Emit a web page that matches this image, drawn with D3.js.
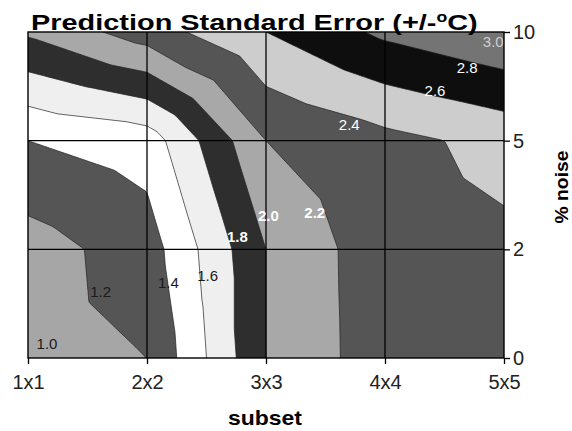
<!DOCTYPE html>
<html>
<head>
<meta charset="utf-8">
<title>Prediction Standard Error</title>
<script src="https://d3js.org/d3.v7.min.js"></script>
<style>
  body { margin: 0; background: #fff; }
  text { font-family: Arial, "Liberation Sans", sans-serif; }
</style>
</head>
<body>
<script>
// categories
var subsets = ["1x1", "2x2", "3x3", "4x4", "5x5"];
var noise = ["0", "2", "5", "10"];

// prediction standard error, one row per noise level, one value per subset
var err0  = [1.18, 1.20, 2.00, 2.32, 2.35];
var err2  = [1.11, 1.30, 2.00, 2.33, 2.36];
var err5  = [1.40, 1.49, 2.20, 2.34, 2.46];
var err10 = [2.03, 2.30, 2.60, 2.84, 2.98];

// contour levels and the labels written on the bands
var levels = [1.0, 1.2, 1.4, 1.6, 1.8, 2.0, 2.2, 2.4, 2.6, 2.8, 3.0];
var labelText = ["1.0", "1.2", "1.4", "1.6", "1.8", "2.0", "2.2", "2.4", "2.6", "2.8", "3.0"];
var labelSubset = [0.16, 0.61, 1.18, 1.51, 1.76, 2.02, 2.41, 2.70, 3.42, 3.69, 3.91];
var labelNoise  = [0.13, 0.61, 0.69, 0.76, 1.12, 1.31, 1.34, 2.15, 2.46, 2.67, 2.91];

var bandColors = ["#a6a6a6", "#555555", "#ffffff", "#efefef", "#2e2e2e", "#a8a8a8",
                  "#555555", "#cdcdcd", "#0e0e0e", "#747474", "#8a8a8a"];

var W = 572, H = 431;
var x0 = 28, x1 = 504, y0 = 32, y1 = 358;

var svg = d3.select("body").append("svg")
    .attr("width", W)
    .attr("height", H);

var x = d3.scalePoint().domain(subsets).range([x0, x1]);
var y = d3.scalePoint().domain(noise).range([y1, y0]);
var xi = d3.scaleLinear().domain([0, subsets.length - 1]).range([x0, x1]);
var yi = d3.scaleLinear().domain([0, noise.length - 1]).range([y1, y0]);

var grid = [err0, err2, err5, err10];

// surface value: every cell split in four triangles round its centre
function surface(u, v) {
  var i = Math.min(Math.floor(u), subsets.length - 2);
  var j = Math.min(Math.floor(v), noise.length - 2);
  var a = u - i, b = v - j;
  var bl = grid[j][i], br = grid[j][i + 1], tl = grid[j + 1][i], tr = grid[j + 1][i + 1];
  var c = (bl + br + tl + tr) / 4;
  var dx = a - 0.5, dy = b - 0.5;
  if (Math.abs(dy) >= Math.abs(dx)) {
    if (dy <= 0) return bl + (br - bl) * a + 2 * (c - (bl + br) / 2) * b;
    return tl + (tr - tl) * a + 2 * (c - (tl + tr) / 2) * (1 - b);
  }
  if (dx <= 0) return bl + (tl - bl) * b + 2 * (c - (bl + tl) / 2) * a;
  return br + (tr - br) * b + 2 * (c - (br + tr) / 2) * (1 - a);
}

var nx = 239, ny = 164;
var values = new Array(nx * ny);
for (var r = 0; r < ny; r++) {
  for (var q = 0; q < nx; q++) {
    values[r * nx + q] = surface(q * (subsets.length - 1) / (nx - 1),
                                 (noise.length - 1) - r * (noise.length - 1) / (ny - 1));
  }
}

var bands = d3.contours().size([nx, ny]).thresholds(levels)(values);

var gx = d3.scaleLinear().domain([0.5, nx - 0.5]).range([x0, x1]);
var gy = d3.scaleLinear().domain([0.5, ny - 0.5]).range([y0, y1]);
var path = d3.geoPath(d3.geoTransform({
  point: function (px, py) { this.stream.point(gx(px), gy(py)); }
}));

svg.append("clipPath").attr("id", "plot")
  .append("rect")
    .attr("x", x0).attr("y", y0)
    .attr("width", x1 - x0).attr("height", y1 - y0);

var plot = svg.append("g").attr("clip-path", "url(#plot)");

plot.selectAll("path.band")
  .data(bands)
  .enter().append("path")
    .attr("class", "band")
    .attr("d", path)
    .attr("fill", function (d, k) { return bandColors[k]; })
    .attr("stroke", "#222")
    .attr("stroke-width", 0.7);

// grid
plot.selectAll("line.vg")
  .data(subsets.slice(1, -1))
  .enter().append("line")
    .attr("x1", function (d) { return x(d); })
    .attr("x2", function (d) { return x(d); })
    .attr("y1", y0).attr("y2", y1)
    .attr("stroke", "#000").attr("stroke-width", 1.3);

plot.selectAll("line.hg")
  .data(noise.slice(1, -1))
  .enter().append("line")
    .attr("y1", function (d) { return y(d); })
    .attr("y2", function (d) { return y(d); })
    .attr("x1", x0).attr("x2", x1)
    .attr("stroke", "#000").attr("stroke-width", 1.3);

// band labels
plot.selectAll("text.lbl")
  .data(labelText)
  .enter().append("text")
    .attr("x", function (d, k) { return xi(labelSubset[k]); })
    .attr("y", function (d, k) { return yi(labelNoise[k]); })
    .attr("dy", "0.36em")
    .attr("text-anchor", "middle")
    .style("font-size", "15px")
    .style("font-weight", function (d, k) { return (k >= 4 && k <= 6) ? "bold" : "normal"; })
    .attr("fill", function (d, k) { return k < 4 ? "#1a1a1a" : (k == 10 ? "#cfcfcf" : "#ffffff"); })
    .text(function (d) { return d; });

svg.append("rect")
    .attr("x", x0).attr("y", y0)
    .attr("width", x1 - x0).attr("height", y1 - y0)
    .attr("fill", "none")
    .attr("stroke", "#000").attr("stroke-width", 1.4);

// axes
var xAxis = svg.append("g")
    .attr("transform", "translate(0," + y1 + ")")
    .call(d3.axisBottom(x).tickSize(6).tickPadding(11));
var yAxis = svg.append("g")
    .attr("transform", "translate(" + x1 + ",0)")
    .call(d3.axisRight(y).tickSize(6).tickPadding(3));

[xAxis, yAxis].forEach(function (g) {
  g.select(".domain").remove();
  g.selectAll(".tick line").attr("stroke", "#000").attr("stroke-width", 1.3);
  g.selectAll(".tick text")
    .style("font-size", "20px")
    .style("font-family", "Arial, 'Liberation Sans', sans-serif")
    .attr("fill", "#222");
});

// titles, stretched to the width they have in the picture
function fit(sel, width) {
  var w = sel.node().getComputedTextLength();
  return width / w;
}

var title = svg.append("text")
    .style("font-size", "23px")
    .style("font-weight", "bold")
    .attr("fill", "#000");
title.append("tspan").text("Prediction Standard Error (+/-");
title.append("tspan").attr("dy", -8).style("font-size", "14px").text("o");
title.append("tspan").attr("dy", 8).text("C)");
title.attr("transform", "translate(31,29.5) scale(" + fit(title, 447) + ",1)");

var xTitle = svg.append("text")
    .style("font-size", "20px")
    .style("font-weight", "bold")
    .attr("fill", "#000")
    .text("subset");
xTitle.attr("transform", "translate(228,425) scale(" + fit(xTitle, 74) + ",1)");

var yTitle = svg.append("text")
    .style("font-size", "18px")
    .style("font-weight", "bold")
    .attr("text-anchor", "middle")
    .attr("fill", "#000")
    .text("% noise");
yTitle.attr("transform", "translate(568,187) rotate(-90) scale(" + fit(yTitle, 73) + ",1)");
</script>
</body>
</html>
